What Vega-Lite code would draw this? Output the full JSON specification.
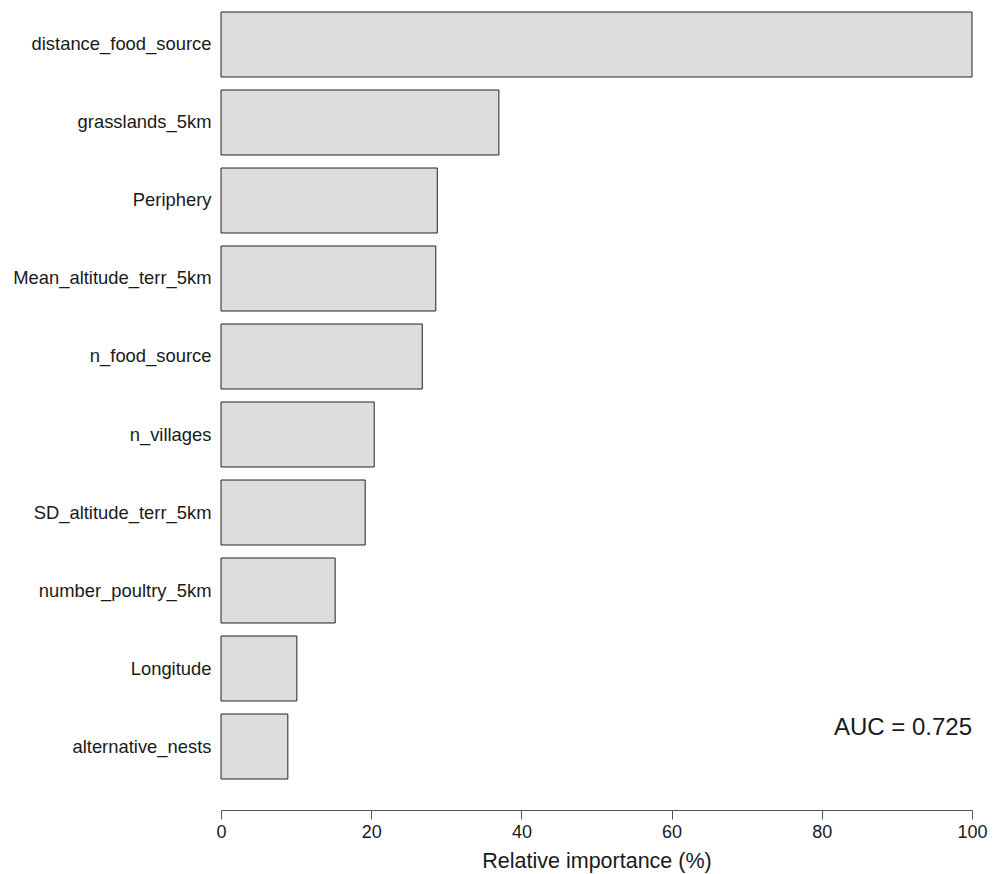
{
  "$schema": "https://vega.github.io/schema/vega-lite/v6.json",
  "autosize": {"type": "none"},
  "padding": {"left": 221, "top": 12, "right": 31, "bottom": 95},
  "width": 751,
  "height": 767,
  "background": "white",
  "config": {
    "view": {"stroke": null},
    "font": "Liberation Sans",
    "axis": {"labelFont": "Liberation Sans", "titleFont": "Liberation Sans", "labelColor": "#1a1a1a", "titleColor": "#1a1a1a", "grid": false}
  },
  "data": {
    "values": [
      {"variable": "distance_food_source", "importance": 100},
      {"variable": "grasslands_5km", "importance": 37.0},
      {"variable": "Periphery", "importance": 28.8},
      {"variable": "Mean_altitude_terr_5km", "importance": 28.6},
      {"variable": "n_food_source", "importance": 26.8},
      {"variable": "n_villages", "importance": 20.4},
      {"variable": "SD_altitude_terr_5km", "importance": 19.2},
      {"variable": "number_poultry_5km", "importance": 15.2},
      {"variable": "Longitude", "importance": 10.1},
      {"variable": "alternative_nests", "importance": 8.9}
    ]
  },
  "layer": [
    {
      "mark": {"type": "bar", "fill": "#dddddd", "stroke": "#222222", "strokeWidth": 1},
      "encoding": {
        "y": {
          "field": "variable", "type": "nominal",
          "sort": ["distance_food_source", "grasslands_5km", "Periphery", "Mean_altitude_terr_5km", "n_food_source", "n_villages", "SD_altitude_terr_5km", "number_poultry_5km", "Longitude", "alternative_nests"],
          "scale": {"paddingInner": 0.1667, "paddingOuter": 0},
          "axis": {"title": null, "domain": false, "ticks": false, "labelFontSize": 18.4, "labelPadding": 10, "labelLimit": 400}
        },
        "x": {
          "field": "importance", "type": "quantitative",
          "scale": {"domain": [0, 100], "nice": false},
          "axis": {
            "title": "Relative importance (%)", "titleFontSize": 21.5, "titleFontWeight": "normal", "titlePadding": 9,
            "values": [0, 20, 40, 60, 80, 100], "labelFontSize": 18, "labelPadding": 4,
            "offset": 31, "domainColor": "#555555", "tickColor": "#555555", "tickSize": 9,
            "labelFlush": false
          }
        }
      }
    },
    {
      "data": {"values": [{"label": "AUC = 0.725", "x": 100, "variable": "alternative_nests"}]},
      "mark": {"type": "text", "align": "right", "baseline": "middle", "fontSize": 24, "dy": -19, "color": "#1a1a1a"},
      "encoding": {
        "x": {"field": "x", "type": "quantitative"},
        "y": {"field": "variable", "type": "nominal", "sort": ["distance_food_source", "grasslands_5km", "Periphery", "Mean_altitude_terr_5km", "n_food_source", "n_villages", "SD_altitude_terr_5km", "number_poultry_5km", "Longitude", "alternative_nests"]},
        "text": {"field": "label"}
      }
    }
  ]
}
